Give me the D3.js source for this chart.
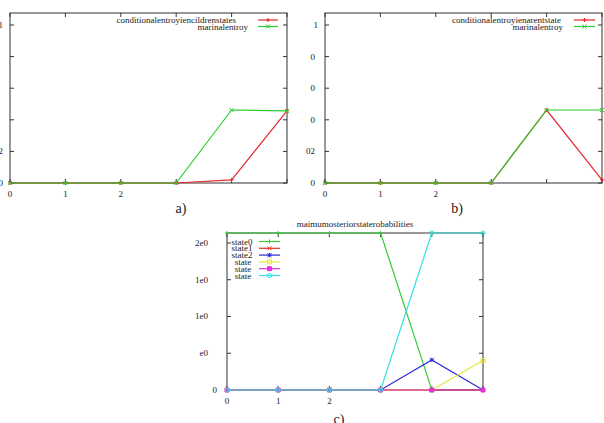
<!DOCTYPE html>
<html>
<head>
<meta charset="utf-8">
<script src="https://cdn.jsdelivr.net/npm/d3@7"></script>
<style>
  body { margin: 0; background: #fff; }
  svg { display: block; }
  text { font-family: "Liberation Serif", "DejaVu Serif", serif; }
</style>
</head>
<body>
<svg id="chart" width="604" height="423"></svg>
<script>
// shared x axis: time steps
const steps = [0, 1, 2, 3, 4, 5];
const xTickLabels = ['0', '1', '2', '', '', ''];

// panel a) entropies given children states
const aNames = ['conditionalentroyiencildrenstates', 'marinalentroy'];
const aConditional = [0, 0, 0, 0, 0.02, 0.456];
const aMarginal = [0, 0, 0, 0, 0.462, 0.456];
const abYTicks = [0, 0.2, 0.4, 0.6, 0.8, 1];
const aYLabels = ['0', '2', '', '', '', '1'];

// panel b) entropies given parent state
const bNames = ['conditionalentroyienarentstate', 'marinalentroy'];
const bConditional = [0, 0, 0, 0, 0.462, 0.02];
const bMarginal = [0, 0, 0, 0, 0.462, 0.462];
const bYLabels = ['0', '02', '0', '0', '0', '1'];

// panel c) maximum posterior state probabilities
const cTitle = 'maimumosteriorstaterobabilities';
const cNames = ['state0', 'state1', 'state2', 'state', 'state', 'state'];
const cState0 = [1, 1, 1, 1, 0, 0];
const cState1 = [0, 0, 0, 0, 0, 0];
const cState2 = [0, 0, 0, 0, 0.041, 0];
const cState3 = [0, 0, 0, 0, 0, 0.04];
const cState4 = [0, 0, 0, 0, 0, 0];
const cState5 = [0, 0, 0, 0, 1, 1];
const cYTicks = [0, 0.05, 0.1, 0.15, 0.2];
const cYLabels = ['0', 'e0', '1e0', '1e0', '2e0'];

const svg = d3.select('#chart');
const ink = '#1a1a1a';
const fs = 9;

// gnuplot-ish point glyphs, centred on 0,0
function markerPath(type, s) {
  switch (type) {
    case 'plus': return `M${-s},0H${s}M0,${-s}V${s}`;
    case 'cross': return `M${-s},${-s}L${s},${s}M${-s},${s}L${s},${-s}`;
    case 'star': return `M${-s},0H${s}M0,${-s}V${s}M${-s},${-s}L${s},${s}M${-s},${s}L${s},${-s}`;
    case 'box': return `M${-s},${-s}H${s}V${s}H${-s}Z`;
    case 'circle': return d3.symbol(d3.symbolCircle, Math.PI * s * s)();
    default: return '';
  }
}

function drawMarker(g, type, fill, color, x, y) {
  g.append('path')
    .attr('d', markerPath(type, 2))
    .attr('transform', `translate(${x},${y})`)
    .attr('fill', fill ? color : 'none')
    .attr('stroke', color)
    .attr('stroke-width', 1);
}

function drawPanel(p) {
  const x = d3.scaleLinear().domain([0, 5]).range([p.left, p.right]);
  const y = d3.scaleLinear().domain([0, p.yMax]).range([p.bottom, p.top]).clamp(true);
  const g = svg.append('g');

  // frame
  g.append('rect')
    .attr('x', p.left).attr('y', p.top)
    .attr('width', p.right - p.left).attr('height', p.bottom - p.top)
    .attr('fill', 'none').attr('stroke', '#333').attr('stroke-width', 1);

  // inward ticks on all four sides
  const tl = 4;
  steps.forEach(s => {
    g.append('line').attr('x1', x(s)).attr('x2', x(s)).attr('y1', p.bottom).attr('y2', p.bottom - tl).attr('stroke', '#333');
    g.append('line').attr('x1', x(s)).attr('x2', x(s)).attr('y1', p.top).attr('y2', p.top + tl).attr('stroke', '#333');
  });
  p.yTicks.forEach(t => {
    g.append('line').attr('x1', p.left).attr('x2', p.left + tl).attr('y1', y(t)).attr('y2', y(t)).attr('stroke', '#333');
    g.append('line').attr('x1', p.right).attr('x2', p.right - tl).attr('y1', y(t)).attr('y2', y(t)).attr('stroke', '#333');
  });

  // tick labels
  g.selectAll('.xl').data(steps).join('text')
    .attr('x', d => x(d)).attr('y', p.bottom + 14)
    .attr('text-anchor', 'middle').attr('font-size', fs).attr('fill', ink)
    .text((d, i) => xTickLabels[i]);
  g.selectAll('.yl').data(p.yTicks).join('text')
    .attr('x', (d, i) => p.left - p.yPad(p.yLabels[i]))
    .attr('y', d => y(d) + 3)
    .attr('text-anchor', 'end').attr('font-size', fs).attr('fill', ink)
    .text((d, i) => p.yLabels[i]);

  // series lines + points
  const line = d3.line().x((d, i) => x(steps[i])).y(d => y(d));
  p.series.forEach(s => {
    g.append('path').datum(s.values)
      .attr('d', line).attr('fill', 'none')
      .attr('stroke', s.color).attr('stroke-width', 1.2);
    s.values.forEach((v, i) => drawMarker(g, s.marker, s.fill, s.color, x(steps[i]), y(v)));
  });

  // key
  p.series.forEach((s, i) => {
    const ky = p.keyY + i * p.keyStep;
    g.append('line')
      .attr('x1', p.keyX).attr('x2', p.keyX + p.keyLen)
      .attr('y1', ky).attr('y2', ky)
      .attr('stroke', s.color).attr('stroke-width', 1.2);
    drawMarker(g, s.marker, s.fill, s.color, p.keyX + p.keyLen / 2, ky);
    g.append('text')
      .attr('x', p.keyTextX[i]).attr('y', ky + 3)
      .attr('text-anchor', p.keyAnchor).attr('font-size', fs).attr('fill', ink)
      .text(s.name);
  });

  if (p.title) {
    g.append('text')
      .attr('x', (p.left + p.right) / 2).attr('y', p.top - 6)
      .attr('text-anchor', 'middle').attr('font-size', fs).attr('fill', ink)
      .text(p.title);
  }

  g.append('text')
    .attr('x', p.capX).attr('y', p.capY)
    .attr('text-anchor', 'middle').attr('font-size', 14).attr('fill', ink)
    .text(p.caption);
}

const red = '#e8282a', green = '#2ccc2c';

drawPanel({
  left: 10, right: 287, top: 13, bottom: 183, yMax: 1.076,
  yTicks: abYTicks, yLabels: aYLabels, yPad: () => 7,
  series: [
    { name: aNames[0], values: aConditional, color: red, marker: 'plus' },
    { name: aNames[1], values: aMarginal, color: green, marker: 'cross' }
  ],
  keyX: 258, keyLen: 20, keyY: 20, keyStep: 6.5,
  keyTextX: [236, 248], keyAnchor: 'end',
  caption: 'a)', capX: 181, capY: 213
});

drawPanel({
  left: 325, right: 602, top: 13, bottom: 183, yMax: 1.076,
  yTicks: abYTicks, yLabels: bYLabels, yPad: l => (l === '0' || l === '02') ? 10 : 7,
  series: [
    { name: bNames[0], values: bConditional, color: red, marker: 'plus' },
    { name: bNames[1], values: bMarginal, color: green, marker: 'cross' }
  ],
  keyX: 574, keyLen: 21, keyY: 20, keyStep: 6.5,
  keyTextX: [561, 563], keyAnchor: 'end',
  caption: 'b)', capX: 457, capY: 213
});

drawPanel({
  left: 227, right: 483, top: 233, bottom: 390, yMax: 0.2136,
  yTicks: cYTicks, yLabels: cYLabels, yPad: l => l === '0' ? 10 : 19,
  title: cTitle,
  series: [
    { name: cNames[0], values: cState0, color: '#33cc33', marker: 'plus' },
    { name: cNames[1], values: cState1, color: '#e83030', marker: 'cross' },
    { name: cNames[2], values: cState2, color: '#2a2ad8', marker: 'star' },
    { name: cNames[3], values: cState3, color: '#e8e830', marker: 'box' },
    { name: cNames[4], values: cState4, color: '#e030e0', marker: 'box', fill: true },
    { name: cNames[5], values: cState5, color: '#30e0e0', marker: 'circle' }
  ],
  keyX: 259, keyLen: 21, keyY: 241.5, keyStep: 6.8,
  keyTextX: [242, 242, 242, 243, 243, 243], keyAnchor: 'middle',
  caption: 'c)', capX: 339, capY: 424
});
</script>
</body>
</html>
